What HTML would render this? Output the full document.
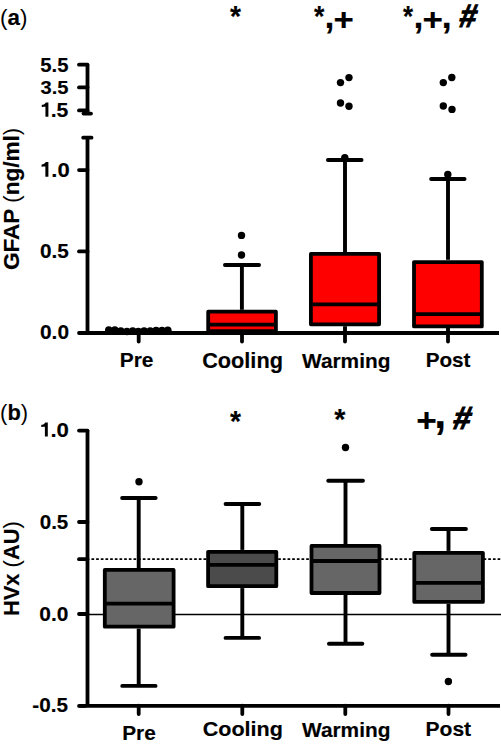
<!DOCTYPE html>
<html><head><meta charset="utf-8"><style>
html,body{margin:0;padding:0;background:#fff;width:501px;height:745px;overflow:hidden}
svg{display:block}
</style></head><body>
<svg width="501" height="745" viewBox="0 0 501 745">
<line x1="87.50" y1="64.70" x2="87.50" y2="113.60" stroke="#000" stroke-width="3.8" stroke-linecap="butt" />
<line x1="79.00" y1="64.70" x2="87.50" y2="64.70" stroke="#000" stroke-width="3.8" stroke-linecap="round" />
<line x1="79.00" y1="87.40" x2="87.50" y2="87.40" stroke="#000" stroke-width="3.8" stroke-linecap="round" />
<line x1="79.00" y1="110.40" x2="87.50" y2="110.40" stroke="#000" stroke-width="3.8" stroke-linecap="round" />
<line x1="83.50" y1="113.60" x2="91.00" y2="113.60" stroke="#000" stroke-width="3.8" stroke-linecap="round" />
<path d="M48.40,102.40 L48.40,116.80 L45.45,116.80 L45.45,106.86 C44.30,106.94 42.35,107.01 41.78,107.01 L41.78,104.85 C43.79,104.70 44.87,103.84 45.88,102.40 Z" fill="#000"/>
<line x1="87.50" y1="137.70" x2="87.50" y2="333.00" stroke="#000" stroke-width="3.8" stroke-linecap="butt" />
<line x1="83.20" y1="137.70" x2="91.50" y2="137.70" stroke="#000" stroke-width="3.8" stroke-linecap="round" />
<line x1="79.00" y1="170.10" x2="87.50" y2="170.10" stroke="#000" stroke-width="3.8" stroke-linecap="round" />
<line x1="79.00" y1="251.40" x2="87.50" y2="251.40" stroke="#000" stroke-width="3.8" stroke-linecap="round" />
<path d="M48.40,161.90 L48.40,176.70 L45.37,176.70 L45.37,166.49 C44.18,166.56 42.18,166.64 41.59,166.64 L41.59,164.42 C43.66,164.27 44.77,163.38 45.81,161.90 Z" fill="#000"/>
<line x1="79.00" y1="333.00" x2="499.00" y2="333.00" stroke="#000" stroke-width="3.8" stroke-linecap="butt" />
<line x1="79.00" y1="333.00" x2="85.00" y2="333.00" stroke="#000" stroke-width="3.8" stroke-linecap="round" />
<line x1="138.70" y1="333.00" x2="138.70" y2="341.50" stroke="#000" stroke-width="3.8" stroke-linecap="round" />
<line x1="242.00" y1="333.00" x2="242.00" y2="341.50" stroke="#000" stroke-width="3.8" stroke-linecap="round" />
<line x1="345.00" y1="333.00" x2="345.00" y2="341.50" stroke="#000" stroke-width="3.8" stroke-linecap="round" />
<line x1="448.00" y1="333.00" x2="448.00" y2="341.50" stroke="#000" stroke-width="3.8" stroke-linecap="round" />
<circle cx="108.8" cy="330" r="3.8" fill="#000"/>
<circle cx="114.8" cy="330" r="3.8" fill="#000"/>
<circle cx="120.8" cy="331" r="3.8" fill="#000"/>
<circle cx="126.9" cy="331.5" r="3.8" fill="#000"/>
<circle cx="132.7" cy="331" r="3.8" fill="#000"/>
<circle cx="138.3" cy="331.5" r="3.8" fill="#000"/>
<circle cx="144.1" cy="331" r="3.8" fill="#000"/>
<circle cx="150.2" cy="331" r="3.8" fill="#000"/>
<circle cx="156.1" cy="330.5" r="3.8" fill="#000"/>
<circle cx="162.0" cy="330.5" r="3.8" fill="#000"/>
<circle cx="167.8" cy="330.3" r="3.8" fill="#000"/>
<rect x="208.20" y="311.70" width="67.70" height="19.40" fill="#ff0000" stroke="#000" stroke-width="3.8" stroke-linejoin="round"/>
<line x1="208.20" y1="324.60" x2="275.90" y2="324.60" stroke="#000" stroke-width="3.8" stroke-linecap="butt" />
<line x1="241.90" y1="309.80" x2="241.90" y2="265.00" stroke="#000" stroke-width="3.9" stroke-linecap="butt" />
<line x1="224.95" y1="265.00" x2="259.05" y2="265.00" stroke="#000" stroke-width="3.9" stroke-linecap="round" />
<circle cx="241.5" cy="235.4" r="3.7" fill="#000"/>
<circle cx="241.5" cy="255" r="3.7" fill="#000"/>
<rect x="310.90" y="253.90" width="68.20" height="70.40" fill="#ff0000" stroke="#000" stroke-width="3.8" stroke-linejoin="round"/>
<line x1="310.90" y1="304.30" x2="379.10" y2="304.30" stroke="#000" stroke-width="3.8" stroke-linecap="butt" />
<line x1="345.00" y1="252.00" x2="345.00" y2="160.00" stroke="#000" stroke-width="3.9" stroke-linecap="butt" />
<line x1="327.95" y1="160.00" x2="361.55" y2="160.00" stroke="#000" stroke-width="3.9" stroke-linecap="round" />
<line x1="345.00" y1="326.20" x2="345.00" y2="333.00" stroke="#000" stroke-width="3.9" stroke-linecap="butt" />
<circle cx="344.8" cy="157.6" r="3.7" fill="#000"/>
<circle cx="340.5" cy="82.6" r="3.7" fill="#000"/>
<circle cx="349" cy="77.6" r="3.7" fill="#000"/>
<circle cx="340.5" cy="103" r="3.7" fill="#000"/>
<circle cx="349" cy="106.3" r="3.7" fill="#000"/>
<rect x="414.00" y="262.10" width="67.80" height="64.30" fill="#ff0000" stroke="#000" stroke-width="3.8" stroke-linejoin="round"/>
<line x1="414.00" y1="314.20" x2="481.80" y2="314.20" stroke="#000" stroke-width="3.8" stroke-linecap="butt" />
<line x1="448.00" y1="259.80" x2="448.00" y2="179.00" stroke="#000" stroke-width="3.9" stroke-linecap="butt" />
<line x1="431.15" y1="179.00" x2="464.55" y2="179.00" stroke="#000" stroke-width="3.9" stroke-linecap="round" />
<line x1="448.00" y1="328.00" x2="448.00" y2="333.00" stroke="#000" stroke-width="3.9" stroke-linecap="butt" />
<circle cx="447.8" cy="174.5" r="3.7" fill="#000"/>
<circle cx="443.3" cy="82.6" r="3.7" fill="#000"/>
<circle cx="451.8" cy="77.5" r="3.7" fill="#000"/>
<circle cx="443.3" cy="106" r="3.7" fill="#000"/>
<circle cx="452" cy="109.4" r="3.7" fill="#000"/>
<line x1="87.50" y1="430.60" x2="87.50" y2="705.70" stroke="#000" stroke-width="3.8" stroke-linecap="butt" />
<line x1="79.00" y1="430.60" x2="87.50" y2="430.60" stroke="#000" stroke-width="3.8" stroke-linecap="round" />
<line x1="79.00" y1="522.00" x2="87.50" y2="522.00" stroke="#000" stroke-width="3.8" stroke-linecap="round" />
<line x1="79.00" y1="559.20" x2="87.50" y2="559.20" stroke="#000" stroke-width="3.8" stroke-linecap="round" />
<line x1="79.00" y1="614.00" x2="87.50" y2="614.00" stroke="#000" stroke-width="3.8" stroke-linecap="round" />
<path d="M47.80,422.40 L47.80,436.60 L44.89,436.60 L44.89,426.80 C43.75,426.87 41.84,426.94 41.27,426.94 L41.27,424.81 C43.26,424.67 44.32,423.82 45.31,422.40 Z" fill="#000"/>
<line x1="91.45" y1="559.1" x2="501" y2="559.1" stroke="#000" stroke-width="1.7" stroke-dasharray="2.7 1.968"/>
<line x1="89" y1="614.4" x2="501" y2="614.4" stroke="#000" stroke-width="1.5"/>
<line x1="79.00" y1="705.90" x2="500.00" y2="705.90" stroke="#000" stroke-width="3.8" stroke-linecap="butt" />
<line x1="79.00" y1="705.90" x2="85.00" y2="705.90" stroke="#000" stroke-width="3.8" stroke-linecap="round" />
<line x1="138.70" y1="705.70" x2="138.70" y2="714.00" stroke="#000" stroke-width="3.8" stroke-linecap="round" />
<line x1="242.30" y1="705.70" x2="242.30" y2="714.00" stroke="#000" stroke-width="3.8" stroke-linecap="round" />
<line x1="345.30" y1="705.70" x2="345.30" y2="714.00" stroke="#000" stroke-width="3.8" stroke-linecap="round" />
<line x1="448.50" y1="705.70" x2="448.50" y2="714.00" stroke="#000" stroke-width="3.8" stroke-linecap="round" />
<line x1="138.70" y1="568.00" x2="138.70" y2="498.00" stroke="#000" stroke-width="3.9" stroke-linecap="butt" />
<line x1="122.15" y1="498.00" x2="155.65" y2="498.00" stroke="#000" stroke-width="3.9" stroke-linecap="round" />
<line x1="138.70" y1="628.60" x2="138.70" y2="685.90" stroke="#000" stroke-width="3.9" stroke-linecap="butt" />
<line x1="122.25" y1="685.90" x2="155.55" y2="685.90" stroke="#000" stroke-width="3.9" stroke-linecap="round" />
<rect x="104.80" y="569.90" width="68.80" height="56.80" fill="#666666" stroke="#000" stroke-width="3.8" stroke-linejoin="round"/>
<line x1="104.80" y1="603.60" x2="173.60" y2="603.60" stroke="#000" stroke-width="3.8" stroke-linecap="butt" />
<circle cx="139" cy="481.8" r="3.7" fill="#000"/>
<line x1="242.30" y1="549.90" x2="242.30" y2="504.00" stroke="#000" stroke-width="3.9" stroke-linecap="butt" />
<line x1="225.55" y1="504.00" x2="259.25" y2="504.00" stroke="#000" stroke-width="3.9" stroke-linecap="round" />
<line x1="242.30" y1="588.10" x2="242.30" y2="637.90" stroke="#000" stroke-width="3.9" stroke-linecap="butt" />
<line x1="225.55" y1="637.90" x2="259.05" y2="637.90" stroke="#000" stroke-width="3.9" stroke-linecap="round" />
<rect x="208.10" y="551.80" width="68.20" height="34.40" fill="#4b4b4b" stroke="#000" stroke-width="3.8" stroke-linejoin="round"/>
<line x1="208.10" y1="564.80" x2="276.30" y2="564.80" stroke="#000" stroke-width="3.8" stroke-linecap="butt" />
<line x1="345.50" y1="544.00" x2="345.50" y2="480.80" stroke="#000" stroke-width="3.9" stroke-linecap="butt" />
<line x1="328.25" y1="480.80" x2="362.95" y2="480.80" stroke="#000" stroke-width="3.9" stroke-linecap="round" />
<line x1="345.50" y1="594.90" x2="345.50" y2="643.80" stroke="#000" stroke-width="3.9" stroke-linecap="butt" />
<line x1="328.95" y1="643.80" x2="362.35" y2="643.80" stroke="#000" stroke-width="3.9" stroke-linecap="round" />
<rect x="311.50" y="545.90" width="68.00" height="47.10" fill="#666666" stroke="#000" stroke-width="3.8" stroke-linejoin="round"/>
<line x1="311.50" y1="561.00" x2="379.50" y2="561.00" stroke="#000" stroke-width="3.8" stroke-linecap="butt" />
<circle cx="345.5" cy="447.5" r="3.7" fill="#000"/>
<line x1="448.50" y1="550.90" x2="448.50" y2="529.00" stroke="#000" stroke-width="3.9" stroke-linecap="butt" />
<line x1="431.85" y1="529.00" x2="465.95" y2="529.00" stroke="#000" stroke-width="3.9" stroke-linecap="round" />
<line x1="448.50" y1="603.80" x2="448.50" y2="654.80" stroke="#000" stroke-width="3.9" stroke-linecap="butt" />
<line x1="432.15" y1="654.80" x2="465.55" y2="654.80" stroke="#000" stroke-width="3.9" stroke-linecap="round" />
<rect x="414.30" y="552.80" width="68.60" height="49.10" fill="#666666" stroke="#000" stroke-width="3.8" stroke-linejoin="round"/>
<line x1="414.30" y1="582.90" x2="482.90" y2="582.90" stroke="#000" stroke-width="3.8" stroke-linecap="butt" />
<circle cx="448.4" cy="681.5" r="3.7" fill="#000"/>
<text transform="translate(0.06,24.91) scale(1.0010,1)" font-family="Liberation Sans, sans-serif" font-size="22.34"><tspan font-weight="normal">(</tspan><tspan font-weight="bold" stroke="#000" stroke-width="0.15">a</tspan><tspan font-weight="normal">)</tspan></text>
<text transform="translate(40.29,71.70) scale(1.0373,1)" font-family="Liberation Sans, sans-serif" font-size="19.57"><tspan font-weight="bold" stroke="#000" stroke-width="0.15">5.5</tspan></text>
<text transform="translate(40.50,94.01) scale(1.0519,1)" font-family="Liberation Sans, sans-serif" font-size="19.15"><tspan font-weight="bold" stroke="#000" stroke-width="0.15">3.5</tspan></text>
<text transform="translate(50.71,116.80) scale(1.0386,1)" font-family="Liberation Sans, sans-serif" font-size="20.43"><tspan font-weight="bold" stroke="#000" stroke-width="0.15">.5</tspan></text>
<text transform="translate(51.25,176.60) scale(1.1199,1)" font-family="Liberation Sans, sans-serif" font-size="19.72"><tspan font-weight="bold" stroke="#000" stroke-width="0.15">.0</tspan></text>
<text transform="translate(39.97,257.61) scale(1.0680,1)" font-family="Liberation Sans, sans-serif" font-size="19.44"><tspan font-weight="bold" stroke="#000" stroke-width="0.15">0.5</tspan></text>
<text transform="translate(39.96,339.40) scale(1.0313,1)" font-family="Liberation Sans, sans-serif" font-size="20.28"><tspan font-weight="bold" stroke="#000" stroke-width="0.15">0.0</tspan></text>
<text transform="translate(119.74,366.99) scale(0.9965,1)" font-family="Liberation Sans, sans-serif" font-size="21.00"><tspan font-weight="bold" stroke="#000" stroke-width="0.15">Pre</tspan></text>
<text transform="translate(202.13,367.69) scale(1.0106,1)" font-family="Liberation Sans, sans-serif" font-size="21.49"><tspan font-weight="bold" stroke="#000" stroke-width="0.15">Cooling</tspan></text>
<text transform="translate(302.00,367.78) scale(0.9905,1)" font-family="Liberation Sans, sans-serif" font-size="21.06"><tspan font-weight="bold" stroke="#000" stroke-width="0.15">Warming</tspan></text>
<text transform="translate(425.65,366.99) scale(0.9799,1)" font-family="Liberation Sans, sans-serif" font-size="21.14"><tspan font-weight="bold" stroke="#000" stroke-width="0.15">Post</tspan></text>
<text transform="translate(18.83,270.10) rotate(-90) scale(1.0147,1)" font-family="Liberation Sans, sans-serif" font-size="22.23"><tspan font-weight="bold" stroke="#000" stroke-width="0.15">GFAP </tspan><tspan font-weight="normal">(</tspan><tspan font-weight="bold" stroke="#000" stroke-width="0.15">ng/ml</tspan><tspan font-weight="normal">)</tspan></text>
<text transform="translate(230.00,25.51) scale(0.9487,1)" font-family="Liberation Sans, sans-serif" font-size="29.73"><tspan font-weight="bold" stroke="#000" stroke-width="0.15">*</tspan></text>
<text transform="translate(314.00,25.51) scale(0.8970,1)" font-family="Liberation Sans, sans-serif" font-size="29.73"><tspan font-weight="bold" stroke="#000" stroke-width="0.15">*</tspan></text>
<text transform="translate(324.50,28.20) scale(0.9921,1)" font-family="Liberation Sans, sans-serif" font-size="36.00"><tspan font-weight="bold" stroke="#000" stroke-width="0.15">,</tspan></text>
<text transform="translate(333.61,30.45) scale(1.1377,1)" font-family="Liberation Sans, sans-serif" font-size="30.59"><tspan font-weight="bold" stroke="#000" stroke-width="0.15">+</tspan></text>
<text transform="translate(403.00,25.51) scale(0.8711,1)" font-family="Liberation Sans, sans-serif" font-size="29.73"><tspan font-weight="bold" stroke="#000" stroke-width="0.15">*</tspan></text>
<text transform="translate(413.50,28.40) scale(0.9921,1)" font-family="Liberation Sans, sans-serif" font-size="36.00"><tspan font-weight="bold" stroke="#000" stroke-width="0.15">,</tspan></text>
<text transform="translate(422.40,30.45) scale(1.1442,1)" font-family="Liberation Sans, sans-serif" font-size="30.59"><tspan font-weight="bold" stroke="#000" stroke-width="0.15">+</tspan></text>
<text transform="translate(441.40,28.40) scale(1.0317,1)" font-family="Liberation Sans, sans-serif" font-size="36.00"><tspan font-weight="bold" stroke="#000" stroke-width="0.15">,</tspan></text>
<text transform="translate(458.09,27.35) scale(0.9335,1) skewX(-12)" font-family="Liberation Sans, sans-serif" font-size="32.64" stroke="#000" stroke-width="1.14"><tspan font-weight="bold">#</tspan></text>
<text transform="translate(0.09,420.31) scale(0.9801,1)" font-family="Liberation Sans, sans-serif" font-size="22.34"><tspan font-weight="normal">(</tspan><tspan font-weight="bold" stroke="#000" stroke-width="0.15">b</tspan><tspan font-weight="normal">)</tspan></text>
<text transform="translate(50.44,436.90) scale(1.1033,1)" font-family="Liberation Sans, sans-serif" font-size="20.14"><tspan font-weight="bold" stroke="#000" stroke-width="0.15">.0</tspan></text>
<text transform="translate(39.68,528.61) scale(1.0602,1)" font-family="Liberation Sans, sans-serif" font-size="19.44"><tspan font-weight="bold" stroke="#000" stroke-width="0.15">0.5</tspan></text>
<text transform="translate(39.26,621.00) scale(1.0607,1)" font-family="Liberation Sans, sans-serif" font-size="19.72"><tspan font-weight="bold" stroke="#000" stroke-width="0.15">0.0</tspan></text>
<text transform="translate(32.27,712.31) scale(1.0740,1)" font-family="Liberation Sans, sans-serif" font-size="19.30"><tspan font-weight="bold" stroke="#000" stroke-width="0.15">-0.5</tspan></text>
<text transform="translate(122.14,739.99) scale(1.0141,1)" font-family="Liberation Sans, sans-serif" font-size="20.57"><tspan font-weight="bold" stroke="#000" stroke-width="0.15">Pre</tspan></text>
<text transform="translate(202.74,736.47) scale(1.0442,1)" font-family="Liberation Sans, sans-serif" font-size="20.64"><tspan font-weight="bold" stroke="#000" stroke-width="0.15">Cooling</tspan></text>
<text transform="translate(302.00,736.51) scale(1.0214,1)" font-family="Liberation Sans, sans-serif" font-size="20.43"><tspan font-weight="bold" stroke="#000" stroke-width="0.15">Warming</tspan></text>
<text transform="translate(425.53,736.19) scale(1.0094,1)" font-family="Liberation Sans, sans-serif" font-size="20.86"><tspan font-weight="bold" stroke="#000" stroke-width="0.15">Post</tspan></text>
<text transform="translate(19.15,616.03) rotate(-90) scale(0.9889,1)" font-family="Liberation Sans, sans-serif" font-size="22.13"><tspan font-weight="bold" stroke="#000" stroke-width="0.15">HVx </tspan><tspan font-weight="normal">(</tspan><tspan font-weight="bold" stroke="#000" stroke-width="0.15">AU</tspan><tspan font-weight="normal">)</tspan></text>
<text transform="translate(230.00,430.51) scale(0.9487,1)" font-family="Liberation Sans, sans-serif" font-size="29.73"><tspan font-weight="bold" stroke="#000" stroke-width="0.15">*</tspan></text>
<text transform="translate(334.30,428.51) scale(0.9660,1)" font-family="Liberation Sans, sans-serif" font-size="29.73"><tspan font-weight="bold" stroke="#000" stroke-width="0.15">*</tspan></text>
<text transform="translate(416.29,432.42) scale(1.0750,1)" font-family="Liberation Sans, sans-serif" font-size="32.75"><tspan font-weight="bold" stroke="#000" stroke-width="0.15">+</tspan></text>
<text transform="translate(434.30,427.65) scale(0.9667,1)" font-family="Liberation Sans, sans-serif" font-size="44.33"><tspan font-weight="bold" stroke="#000" stroke-width="0.15">,</tspan></text>
<text transform="translate(451.85,428.56) scale(0.9795,1) skewX(-12)" font-family="Liberation Sans, sans-serif" font-size="32.22" stroke="#000" stroke-width="1.13"><tspan font-weight="bold">#</tspan></text>
</svg>
</body></html>
